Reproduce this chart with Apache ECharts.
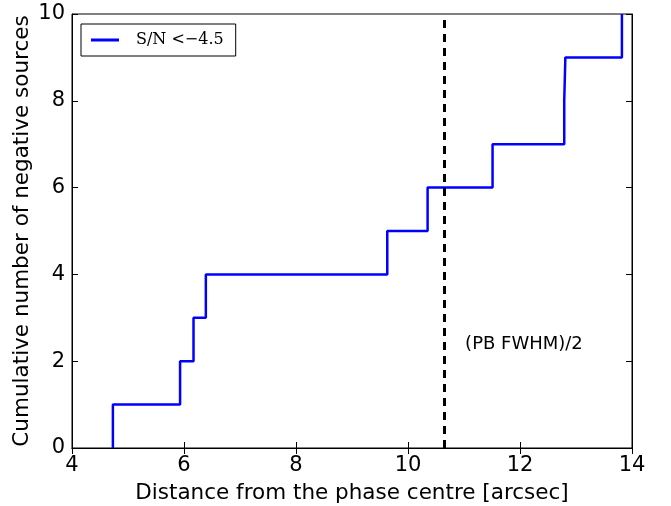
<!DOCTYPE html>
<html>
<head>
<meta charset="utf-8">
<script src="https://cdn.jsdelivr.net/npm/echarts@6/dist/echarts.min.js"></script>
<style>
  html, body { margin: 0; padding: 0; background: #fff; }
  #chart { width: 671px; height: 506px; }
</style>
</head>
<body>
<div id="chart"></div>
<script>
// distances (arcsec) where the cumulative count goes up by one
var stepX = [4.73, 5.93, 6.17, 6.39, 9.63, 10.35, 11.51, 12.79, 12.81, 13.82];
var stepCount = [1, 2, 3, 4, 5, 6, 7, 8, 9, 10];
var halfFwhm = 10.65;
var xTicks = [4, 6, 8, 10, 12, 14];
var yTicks = [0, 2, 4, 6, 8, 10];
var noteAt = [11.02, 2.4];

var pts = [];
stepX.forEach(function (x, i) {
  pts.push([x, stepCount[i] - 1]);
  pts.push([x, stepCount[i]]);
});

var font = 'DejaVu Sans';
var tickStyle = { inside: true, length: 6, lineStyle: { color: '#000', width: 1 } };

var chart = echarts.init(document.getElementById('chart'));
chart.setOption({
  animation: false,
  grid: {
    left: 72, right: 39, top: 14, bottom: 58,
    outerBoundsMode: 'none', containLabel: false,
    show: true, borderColor: '#000', borderWidth: 1
  },
  legend: {
    left: 81, top: 24,
    orient: 'vertical',
    padding: [8, 12, 8, 10],
    borderColor: '#000', borderWidth: 1,
    itemWidth: 28, itemHeight: 3, itemGap: 0,
    icon: 'rect',
    data: ['S/N <−4.5'],
    textStyle: { fontFamily: 'DejaVu Serif', fontSize: 16, color: '#000', padding: [0, 0, 0, 12] }
  },
  xAxis: [{
    type: 'value', min: xTicks[0], max: xTicks[xTicks.length - 1], interval: 2,
    name: 'Distance from the phase centre [arcsec]', nameLocation: 'middle', nameGap: 34,
    nameMoveOverlap: false,
    nameTextStyle: { fontFamily: font, fontSize: 21.5, color: '#000' },
    axisLine: { lineStyle: { color: '#000' } },
    axisTick: tickStyle,
    axisLabel: { fontFamily: font, fontSize: 21, color: '#000', margin: 7 },
    splitLine: { show: false }
  }, {
    type: 'value', position: 'top', min: 4, max: 14, interval: 2,
    axisLine: { lineStyle: { color: '#000' } }, axisTick: tickStyle,
    axisLabel: { show: false }, splitLine: { show: false }
  }],
  yAxis: [{
    type: 'value', min: yTicks[0], max: yTicks[yTicks.length - 1], interval: 2,
    name: 'Cumulative number of negative sources', nameLocation: 'middle', nameGap: 39,
    nameMoveOverlap: false,
    nameTextStyle: { fontFamily: font, fontSize: 21.5, color: '#000' },
    axisLine: { lineStyle: { color: '#000' } },
    axisTick: tickStyle,
    axisLabel: { fontFamily: font, fontSize: 21, color: '#000', margin: 7 },
    splitLine: { show: false }
  }, {
    type: 'value', position: 'right', min: 0, max: 10, interval: 2,
    axisLine: { lineStyle: { color: '#000' } }, axisTick: tickStyle,
    axisLabel: { show: false }, splitLine: { show: false }
  }],
  series: [{
    name: 'S/N <−4.5',
    type: 'line',
    data: pts,
    showSymbol: false,
    symbol: 'none',
    itemStyle: { color: '#0000ff' },
    lineStyle: { color: '#0000ff', width: 2.5 },
    markLine: {
      silent: true, symbol: 'none',
      label: { show: false },
      lineStyle: { color: '#000', width: 3, type: [8, 6] },
      data: [{ xAxis: halfFwhm }]
    }
  }, {
    type: 'scatter',
    data: [noteAt],
    symbolSize: 0,
    itemStyle: { opacity: 1 },
    label: {
      show: true, position: 'right', distance: 0,
      formatter: '(PB FWHM)/2',
      fontFamily: font, fontSize: 18, color: '#000'
    }
  }]
});
</script>
</body>
</html>
